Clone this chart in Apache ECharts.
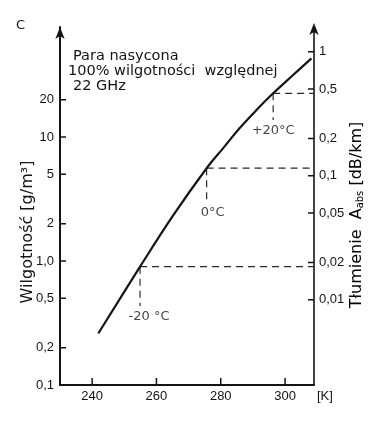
<!DOCTYPE html>
<html>
<head>
<meta charset="utf-8">
<script src="https://cdn.jsdelivr.net/npm/echarts@6/dist/echarts.min.js"></script>
<style>
  html, body { margin: 0; padding: 0; background: #fff; }
  #chart { width: 383px; height: 421px; }
</style>
</head>
<body>
<div id="chart"></div>
<script>
// para nasycona: temperatura [K] -> wilgotność [g/m3]
const kelvin = [241.9, 254.9, 265.2, 275.6, 280.7, 285.9, 291.1, 296.3, 302.5, 308.2]
const humidity = [0.26, 0.90, 2.33, 5.6, 8.1, 11.8, 16.5, 22.5, 31.6, 43.1]

// punkty odniesienia -20 / 0 / +20 °C
const refNames = ['-20 °C', '0°C', '+20°C']
const refKelvin = [254.9, 275.6, 296.3]
const refHumidity = [0.90, 5.6, 22.5]
const refDropTo = [0.434, 2.99, 13.7]   // gdzie kończy się pionowa kreska

const xTicks = [240, 260, 280, 300]
const leftTicks = [0.1, 0.2, 0.5, 1, 2, 5, 10, 20]
const leftLabels = ['0,1', '0,2', '0,5', '1,0', '2', '5', '10', '20']
const rightTicks = [0.01, 0.02, 0.05, 0.1, 0.2, 0.5, 1]
const rightLabels = ['0,01', '0,02', '0,05', '0,1', '0,2', '0,5', '1']

const X_MIN = 230, X_MAX = 309
const H_MIN = 0.1, H_MAX = 77.1
const RATIO = 48.7 // g/m3 na 1 dB/km (22 GHz)

const GRID = { left: 60, right: 69, top: 27, bottom: 36 }
const W = 383, H = 421

const INK = '#141414'
const labelFont = 'Liberation Sans, Arial, sans-serif'
const textFont = 'DejaVu Sans, sans-serif'

const pick = (ticks, labels) => v => {
    const i = ticks.findIndex(t => Math.abs(t - v) / t < 1e-6)
    return i < 0 ? '' : labels[i]
}

const chart = echarts.init(document.getElementById('chart'))

const dashStyle = { color: '#2a2a2a', width: 1.2, type: [7, 5] }

const refSeries = []
refKelvin.forEach((k, i) => {
    // poziomo do prawej osi
    refSeries.push({
        type: 'line', symbol: 'none', silent: true,
        lineStyle: dashStyle,
        data: [[k, refHumidity[i]], [X_MAX, refHumidity[i]]]
    })
    // pionowo w dół
    refSeries.push({
        type: 'line', symbol: 'none', silent: true,
        lineStyle: dashStyle,
        data: [[k, refHumidity[i]], [k, refDropTo[i]]]
    })
})

// kreski podziałki do środka - axisTick w v6 tu nie wychodził, więc zwykłe odcinki
// długość kreski w pikselach przeliczona na jednostki osi
const pxPerK = (W - GRID.left - GRID.right) / (X_MAX - X_MIN)
const pxPerDecade = (H - GRID.top - GRID.bottom) / Math.log10(H_MAX / H_MIN)
const kStep = 6 / pxPerK
const upFactor = Math.pow(10, 7 / pxPerDecade)

const tickStyle = { color: INK, width: 1.5, type: 'solid' }
const tickSeg = (yAxisIndex, a, b) => ({
    type: 'line', symbol: 'none', silent: true, yAxisIndex, z: 6,
    lineStyle: tickStyle,
    data: [a, b]
})
const tickSeries = [
    ...xTicks.map(v => tickSeg(0, [v, H_MIN], [v, H_MIN * upFactor])),
    ...leftTicks.filter(v => v > H_MIN).map(v => tickSeg(0, [X_MIN, v], [X_MIN + kStep, v])),
    ...rightTicks.map(v => tickSeg(1, [X_MAX - kStep, v], [X_MAX, v]))
]

const labelOffsets = [[9, 0], [6, 0], [0, 0]]
const blockText = { fontSize: 14.5, fontFamily: textFont, fill: INK }

const option = {
    animation: false,
    backgroundColor: '#ffffff',
    grid: GRID,
    xAxis: {
        type: 'value',
        min: X_MIN,
        max: X_MAX,
        splitLine: { show: false },
        axisLine: { show: true, lineStyle: { color: INK, width: 2 } },
        axisTick: { show: false },
        axisLabel: { customValues: xTicks, margin: 5, color: INK, fontSize: 13, fontFamily: labelFont },
        name: '[K]',
        nameLocation: 'end',
        nameGap: 3,
        nameTextStyle: { color: INK, fontSize: 13, fontFamily: labelFont, verticalAlign: 'top', padding: [5, 0, 0, 0] }
    },
    yAxis: [
        {
            type: 'log',
            logBase: 10,
            min: H_MIN,
            max: H_MAX,
            position: 'left',
            splitLine: { show: false },
            axisLine: { show: true, symbol: ['none', 'arrow'], symbolSize: [7, 12], lineStyle: { color: INK, width: 2 } },
            axisTick: { show: false },
            axisLabel: { customValues: leftTicks, margin: 6, color: INK, fontSize: 13, fontFamily: labelFont, formatter: pick(leftTicks, leftLabels) }
        },
        {
            type: 'log',
            logBase: 10,
            min: H_MIN / RATIO,
            max: H_MAX / RATIO,
            position: 'right',
            splitLine: { show: false },
            axisLine: { show: true, symbol: ['none', 'arrow'], symbolSize: [7, 12], symbolOffset: [0, 4], lineStyle: { color: INK, width: 1.6 } },
            axisTick: { show: false },
            axisLabel: { customValues: rightTicks, margin: 5, color: INK, fontSize: 13, fontFamily: labelFont, formatter: pick(rightTicks, rightLabels) }
        }
    ],
    series: [
        {
            type: 'line',
            smooth: 0.4,
            symbol: 'none',
            lineStyle: { color: INK, width: 2.2 },
            data: kelvin.map((k, i) => [k, humidity[i]]),
            z: 5
        },
        ...refSeries,
        ...tickSeries,
        {
            type: 'scatter',
            symbolSize: 1,
            itemStyle: { color: 'rgba(0,0,0,0)' },
            silent: true,
            label: {
                show: true,
                position: 'bottom',
                distance: 4,
                color: INK,
                fontSize: 13,
                fontFamily: textFont,
                formatter: p => p.name
            },
            data: refKelvin.map((k, i) => ({
                name: refNames[i],
                value: [k, refDropTo[i]],
                label: { offset: labelOffsets[i] }
            }))
        }
    ],
    graphic: [
        { type: 'text', x: 16, y: 19, style: { text: 'C', fontSize: 13, fontFamily: textFont, fill: INK } },
        { type: 'text', x: 73, y: 49, style: { text: 'Para nasycona', ...blockText } },
        { type: 'text', x: 68, y: 64, style: { text: '100% wilgotności  względnej', ...blockText } },
        { type: 'text', x: 73, y: 79, style: { text: '22 GHz', ...blockText } },
        {
            type: 'text', x: 28, y: 232, rotation: Math.PI / 2,
            style: { text: 'Wilgotność [g/m³]', fontSize: 16, fontFamily: textFont, fill: INK, align: 'center', verticalAlign: 'middle' }
        },
        {
            type: 'text', x: 357, y: 215, rotation: Math.PI / 2,
            style: {
                text: '{a|Tłumienie  A}{s|abs}{a| [dB/km]}',
                align: 'center', verticalAlign: 'middle',
                rich: {
                    a: { fontSize: 16, fontFamily: textFont, color: INK },
                    s: { fontSize: 10, fontFamily: textFont, color: INK, verticalAlign: 'bottom', padding: [7, 0, 0, 0] }
                }
            }
        }
    ]
}

chart.setOption(option)
</script>
</body>
</html>
